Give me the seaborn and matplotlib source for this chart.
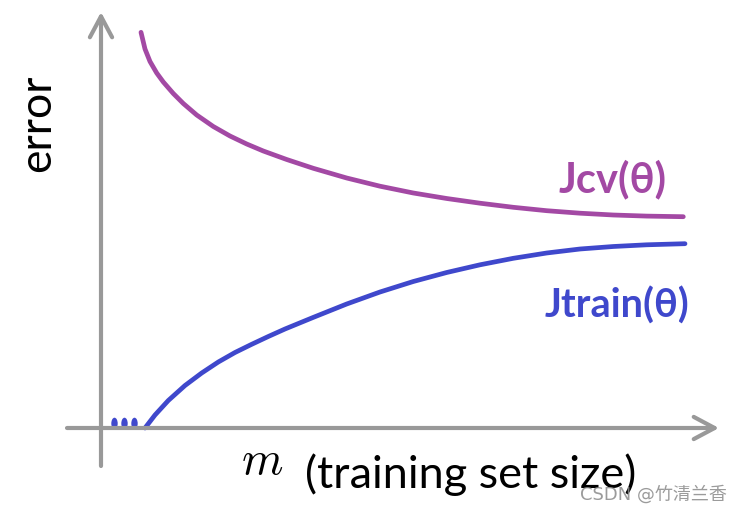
import pandas as pd
import seaborn as sns
import matplotlib.pyplot as plt
from matplotlib.markers import MarkerStyle
from matplotlib.transforms import Affine2D

# learning curve values (m, error)
cv_m = [0.40, 0.44, 0.49, 0.557, 0.623, 0.723, 0.823, 0.957, 1.123, 1.29, 1.457, 1.623, 1.857,
        2.123, 2.457, 2.79, 3.123, 3.457, 3.79, 4.123, 4.457, 4.79, 5.123, 5.457, 5.823]
cv_err = [3.957, 3.79, 3.665, 3.55, 3.46, 3.345, 3.245, 3.13, 3.015, 2.92, 2.84, 2.77, 2.685,
          2.597, 2.50, 2.418, 2.35, 2.295, 2.248, 2.207, 2.173, 2.148, 2.13, 2.119, 2.113]
train_m = [0.44, 0.54, 0.673, 0.84, 1.007, 1.173, 1.34, 1.507, 1.673, 1.84, 2.12,
           2.457, 2.79, 3.123, 3.457, 3.79, 4.123, 4.457, 4.79, 5.123, 5.457, 5.84]
train_err = [0.0, 0.13, 0.275, 0.425, 0.55, 0.66, 0.755, 0.837, 0.915, 0.99, 1.105,
             1.24, 1.36, 1.465, 1.555, 1.632, 1.697, 1.75, 1.79, 1.815, 1.832, 1.843]
dots_m = [0.13, 0.23, 0.33]
dots_err = [0.05, 0.05, 0.05]

CV_COLOR = "#A349A4"
TRAIN_COLOR = "#3F48CC"
AXIS_COLOR = "#999999"

df = pd.concat([
    pd.DataFrame({"m": cv_m, "error": cv_err, "curve": "cv"}),
    pd.DataFrame({"m": train_m, "error": train_err, "curve": "train"}),
])

sns.set_theme(style="white")
plt.rcParams["font.family"] = ["Lato", "DejaVu Sans"]
plt.rcParams["mathtext.fontset"] = "cm"

fig = plt.figure(figsize=(7.46, 5.14), dpi=100)
ax = fig.add_axes([0, 0, 1, 1])

sns.lineplot(data=df, x="m", y="error", hue="curve", palette={"cv": CV_COLOR, "train": TRAIN_COLOR},
             sort=False, estimator=None, linewidth=3.4, legend=False, ax=ax)
for line in ax.lines:
    line.set_solid_capstyle("round")
    line.set_solid_joinstyle("round")

# the three little "..." marks near the origin
pill = MarkerStyle("o", transform=Affine2D().scale(0.55, 1.0))
sns.scatterplot(x=dots_m, y=dots_err, marker=pill, s=70, linewidth=0, color=TRAIN_COLOR, ax=ax)

# axes arrows
arrow = dict(arrowstyle="->,head_length=0.75,head_width=0.4", color=AXIS_COLOR, lw=3,
             mutation_scale=20, shrinkA=0, shrinkB=0, joinstyle="round", capstyle="round")
ax.annotate("", xy=(6.18, 0), xytext=(-0.34, 0), arrowprops=arrow)
ax.annotate("", xy=(0, 4.16), xytext=(0, -0.38), arrowprops=arrow)

ax.text(-0.51, 3.05, "error", rotation=90, rotation_mode="anchor", ha="center", va="baseline",
        fontsize=32, color="black")
ax.text(4.58, 2.353, "Jcv(θ)", fontsize=30, fontweight="bold", color=CV_COLOR, ha="left", va="baseline")
ax.text(4.44, 1.10, "Jtrain(θ)", fontsize=28.5, fontweight="bold", color=TRAIN_COLOR, ha="left", va="baseline")
ax.text(1.40, -0.46, "$m$", fontsize=34, color="black", ha="left", va="baseline")
ax.text(2.04, -0.60, "(training set size)", fontsize=32.5, color="black", ha="left", va="baseline")
ax.text(4.79, -0.72, "CSDN @竹清兰香", fontsize=13, color="#8a8a8a", alpha=0.85, ha="left", va="baseline",
        family=["DejaVu Sans", "Noto Sans CJK SC"])

ax.set_xlim(-1.01, 6.45)
ax.set_ylim(-0.86, 4.28)
ax.axis("off")

fig.savefig("out.png", dpi=100)
